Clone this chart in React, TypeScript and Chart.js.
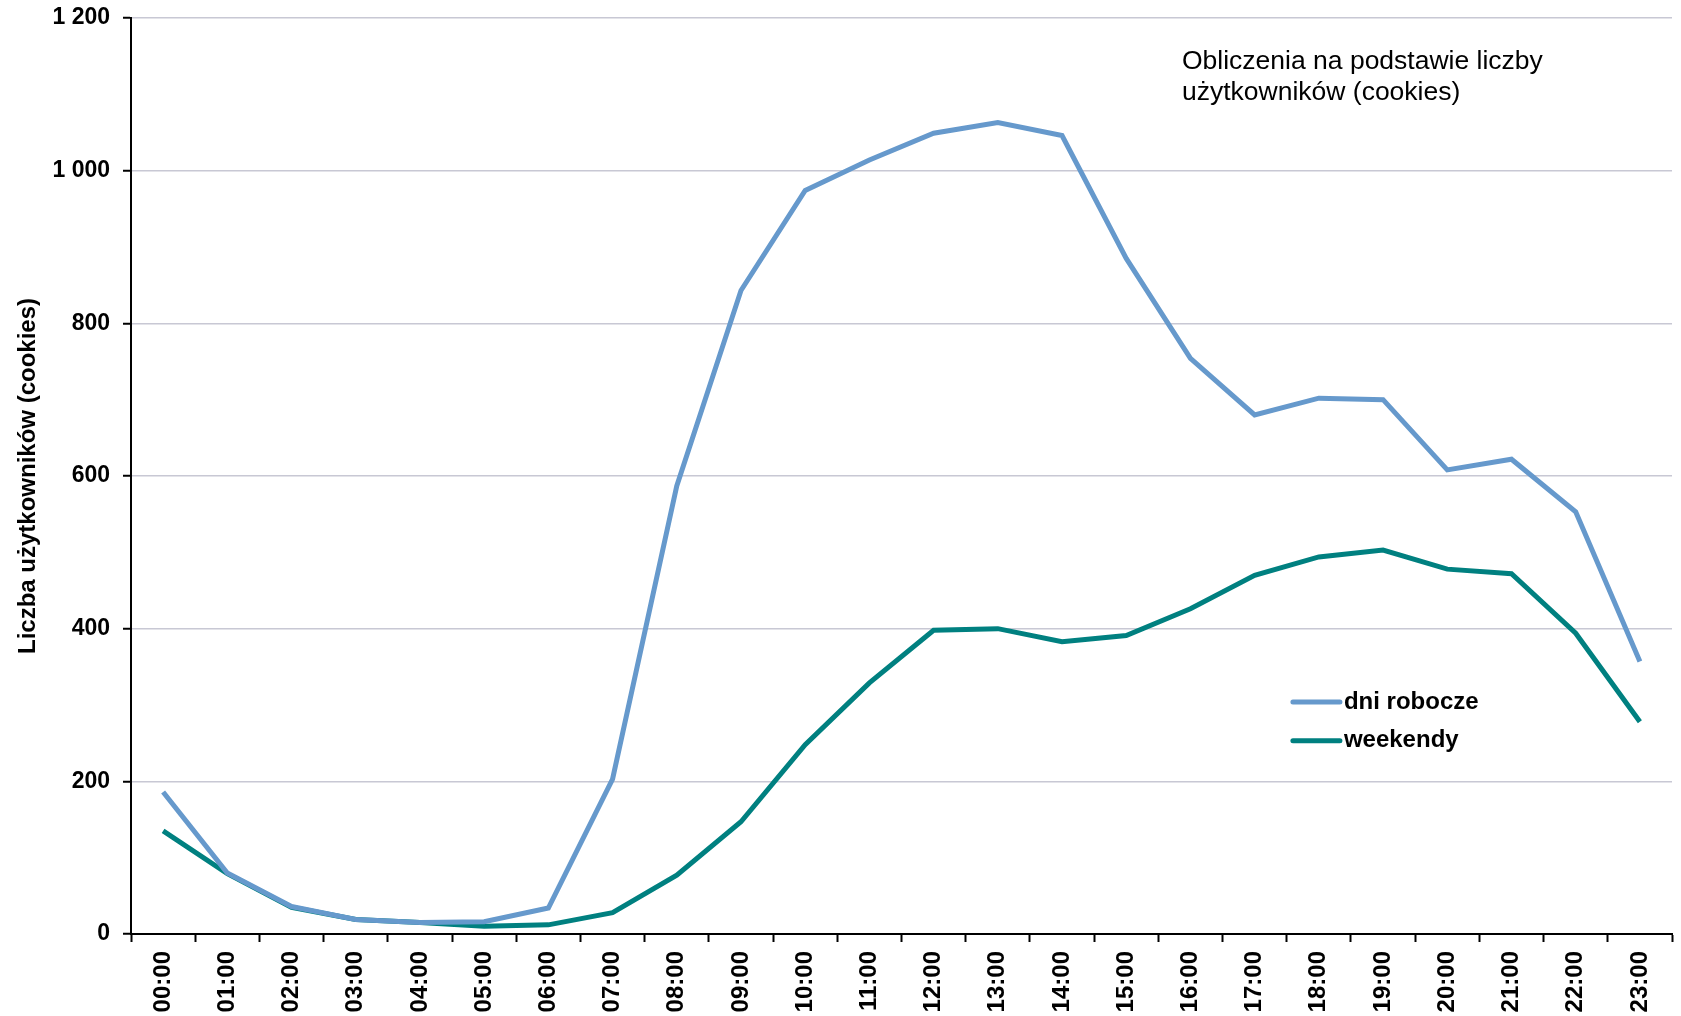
import { useEffect, useRef } from 'react';
import { Chart, registerables } from 'chart.js';

Chart.register(...registerables);

const hours = [
  '00:00', '01:00', '02:00', '03:00', '04:00', '05:00', '06:00', '07:00',
  '08:00', '09:00', '10:00', '11:00', '12:00', '13:00', '14:00', '15:00',
  '16:00', '17:00', '18:00', '19:00', '20:00', '21:00', '22:00', '23:00',
];

const dniRobocze = [
  186, 80, 36, 19, 15, 16, 34, 203, 587, 843, 974, 1014, 1049, 1063, 1046, 885,
  754, 680, 702, 700, 608, 622, 553, 357,
];

const weekendy = [
  135, 79, 35, 19, 15, 10, 12, 28, 77, 147, 248, 329, 398, 400, 383, 391, 426,
  470, 494, 503, 478, 472, 394, 278,
];

const seriesLabels = ['dni robocze', 'weekendy'];
const seriesColors = ['#6699CC', '#008080'];

const yMin = 0;
const yMax = 1200;
const yStep = 200;
const yTitle = 'Liczba użytkowników (cookies)';
const noteLines = ['Obliczenia na podstawie liczby', 'użytkowników (cookies)'];

const fmtThousands = (v: number) =>
  String(v).replace(/\B(?=(\d{3})+(?!\d))/g, ' ');

export default function App() {
  const ref = useRef<HTMLCanvasElement>(null);

  useEffect(() => {
    document.body.style.margin = '0';
    const canvas = ref.current;
    if (!canvas) return;

    const overlay = {
      id: 'overlay',
      afterDatasetsDraw(chart: any) {
        const { ctx, chartArea: a } = chart;
        const w = a.right - a.left;
        const h = a.bottom - a.top;
        ctx.save();
        // note text
        ctx.fillStyle = '#000';
        ctx.textAlign = 'left';
        ctx.textBaseline = 'alphabetic';
        ctx.font = '26.5px "Liberation Sans", Arial, sans-serif';
        const nx = a.left + w * 0.682;
        noteLines.forEach((line, i) => {
          ctx.fillText(line, nx, a.top + 51 + i * 31);
        });
        // legend
        const lx0 = a.left + w * 0.754;
        const lx1 = lx0 + 47;
        const rows = [0.7467, 0.789];
        ctx.font = 'bold 24px "Liberation Sans", Arial, sans-serif';
        ctx.textBaseline = 'middle';
        chart.data.datasets.forEach((ds: any, i: number) => {
          const y = a.top + h * rows[i];
          ctx.strokeStyle = ds.borderColor;
          ctx.lineWidth = 5;
          ctx.lineCap = 'round';
          ctx.beginPath();
          ctx.moveTo(lx0, y);
          ctx.lineTo(lx1, y);
          ctx.stroke();
          ctx.fillStyle = '#000';
          ctx.fillText(ds.label, lx1 + 4, y);
        });
        ctx.restore();
      },
    };

    const chart = new Chart(canvas, {
      type: 'line',
      data: {
        labels: hours,
        datasets: [
          {
            label: seriesLabels[0],
            data: dniRobocze,
            borderColor: seriesColors[0],
            backgroundColor: seriesColors[0],
            borderWidth: 5,
            pointRadius: 0,
            tension: 0,
          },
          {
            label: seriesLabels[1],
            data: weekendy,
            borderColor: seriesColors[1],
            backgroundColor: seriesColors[1],
            borderWidth: 5,
            pointRadius: 0,
            tension: 0,
          },
        ],
      },
      options: {
        animation: false,
        responsive: false,
        maintainAspectRatio: false,
        layout: { padding: { left: 0, right: 9, top: 18, bottom: 0 } },
        plugins: {
          legend: { display: false },
          tooltip: { enabled: false },
        },
        scales: {
          x: {
            type: 'category',
            offset: true,
            afterFit: (s: any) => {
              s.height = 82;
              s.paddingLeft = 0;
              s.paddingRight = 0;
            },
            border: { display: true, color: '#000', width: 2 },
            grid: {
              offset: true,
              drawOnChartArea: false,
              drawTicks: true,
              tickLength: 8,
              tickColor: '#000',
              tickWidth: 2,
            },
            ticks: {
              autoSkip: false,
              maxRotation: 90,
              minRotation: 90,
              padding: 9,
              color: '#000',
              font: {
                family: '"Liberation Sans", Arial, sans-serif',
                weight: 'bold',
                size: 24,
              },
            },
          },
          y: {
            min: yMin,
            max: yMax,
            afterFit: (s: any) => {
              s.width = 131;
              s.paddingTop = 0;
              s.paddingBottom = 0;
            },
            border: { display: true, color: '#000', width: 2 },
            grid: {
              color: '#c8c8d4',
              lineWidth: 1.5,
              drawTicks: true,
              tickLength: 8,
              tickColor: '#000',
              tickWidth: 2,
            },
            ticks: {
              stepSize: yStep,
              padding: 13,
              color: '#000',
              font: {
                family: '"Liberation Sans", Arial, sans-serif',
                weight: 'bold',
                size: 23,
              },
              callback: (v: any) => fmtThousands(Number(v)),
            },
            title: {
              display: true,
              text: yTitle,
              color: '#000',
              padding: { top: 14, bottom: 0 },
              font: {
                family: '"Liberation Sans", Arial, sans-serif',
                weight: 'bold',
                size: 24,
              },
            },
          },
        },
      },
      plugins: [overlay],
    });

    return () => chart.destroy();
  }, []);

  return (
    <div style={{ position: 'absolute', left: 0, top: 0, width: 1681, height: 1016 }}>
      <canvas ref={ref} width={1681} height={1016} style={{ width: 1681, height: 1016, display: 'block' }} />
    </div>
  );
}
